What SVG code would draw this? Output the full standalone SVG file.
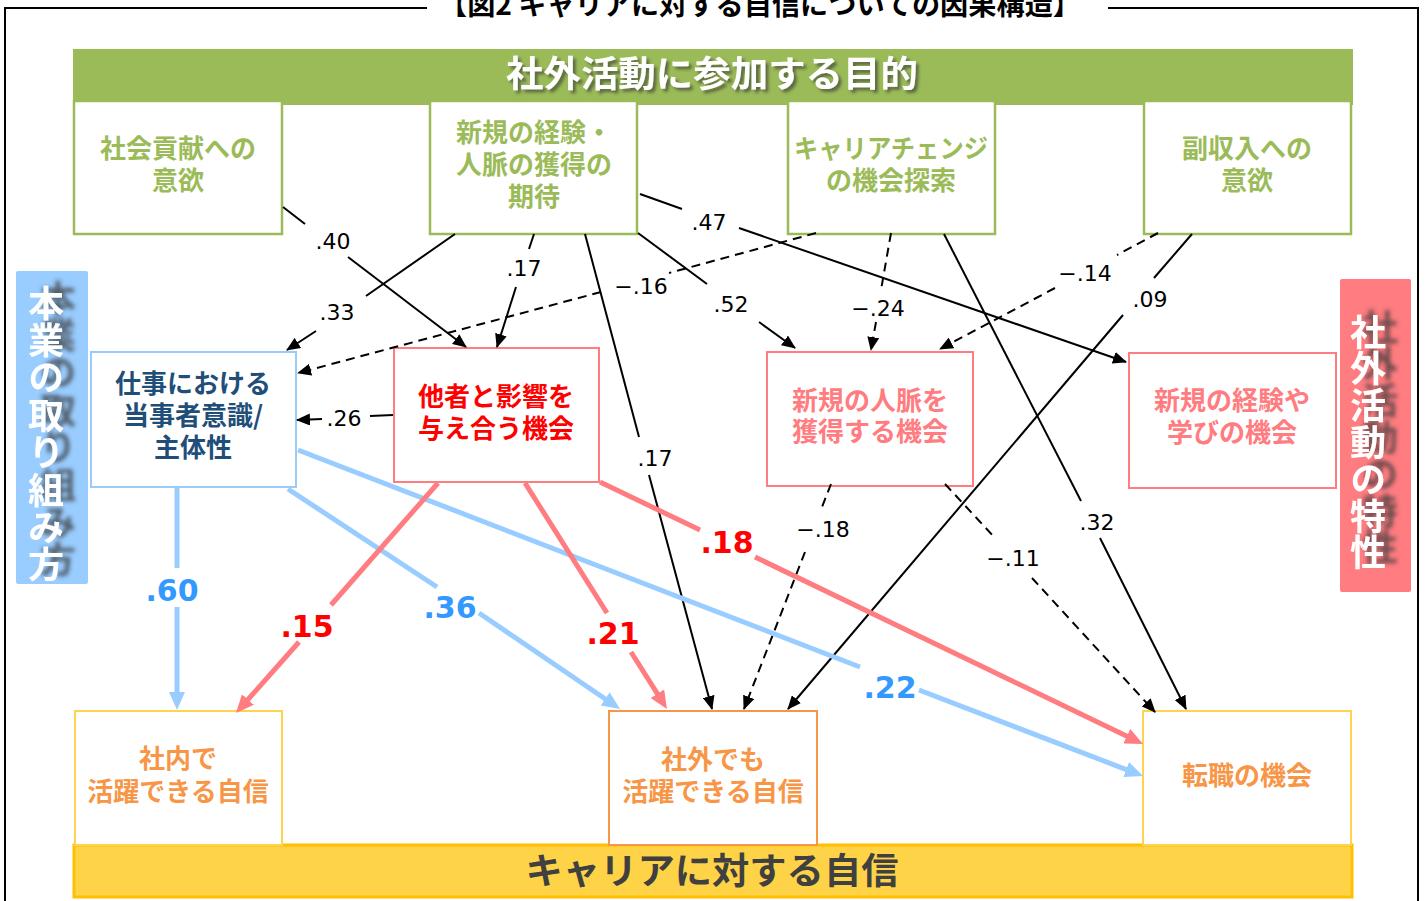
<svg xmlns="http://www.w3.org/2000/svg" width="1427" height="901" viewBox="0 0 1427 901">
<defs>
<style>
.jp{font-family:"Noto Sans CJK JP","Noto Sans CJK SC",sans-serif;font-weight:700}
.bt{font-size:26px;text-anchor:middle;dominant-baseline:central}
.g{fill:#9BBB59}.nb{fill:#1F4E79}.nr{fill:#FF0000}.np{fill:#FF7C80}.no{fill:#F79646}
.topbox{fill:#fff;stroke:#9BBB59;stroke-width:2.5}
.pbox{fill:#fff;stroke:#FF7C80;stroke-width:2}
.bbox{fill:#fff;stroke:#9CCBFA;stroke-width:2}
.ybox{fill:#fff;stroke:#FFD34F;stroke-width:2}
.obox{fill:#fff;stroke:#F79646;stroke-width:2}
.lbl{font-family:"DejaVu Sans",Verdana,sans-serif;font-size:22px;fill:#000;text-anchor:middle;dominant-baseline:central}
.clbl{font-family:"DejaVu Sans",Verdana,sans-serif;font-weight:bold;font-size:30px;text-anchor:middle;dominant-baseline:central}
.cb{fill:#3399FF}.cr{fill:#FF0000}
.k{stroke:#000;stroke-width:2;fill:none}
.kd{stroke-dasharray:9 6}
.bl{stroke:#99CCFF;stroke-width:5;fill:none}
.rd{stroke:#FF7C80;stroke-width:5;fill:none}
.vt{font-size:36px;fill:#fff;writing-mode:vertical-rl;text-anchor:start}
</style>
<marker id="ak" viewBox="0 0 14 12" refX="13" refY="6" markerWidth="14" markerHeight="12" orient="auto" markerUnits="userSpaceOnUse"><path d="M0,0 L14,6 L0,12 z" fill="#000"/></marker>
<marker id="ab" viewBox="0 0 18 16" refX="10" refY="8" markerWidth="18" markerHeight="16" orient="auto" markerUnits="userSpaceOnUse"><path d="M0,0 L18,8 L0,16 z" fill="#99CCFF"/></marker>
<marker id="ar" viewBox="0 0 18 16" refX="10" refY="8" markerWidth="18" markerHeight="16" orient="auto" markerUnits="userSpaceOnUse"><path d="M0,0 L18,8 L0,16 z" fill="#FF7C80"/></marker>
<filter id="sh" x="-30%" y="-30%" width="160%" height="160%"><feDropShadow dx="3" dy="3" stdDeviation="1.5" flood-color="#333" flood-opacity="0.6"/></filter>
<filter id="vsh" x="-50%" y="-20%" width="200%" height="140%"><feDropShadow dx="12" dy="-5" stdDeviation="2" flood-color="#3a3a3a" flood-opacity="0.75"/></filter>
</defs>

<g id="frame">
<path d="M427,8 H5 V905 M1108,8 H1418 V905" fill="none" stroke="#000" stroke-width="2"/>
<text class="jp" x="760" y="15" font-size="28" text-anchor="middle" textLength="642" lengthAdjust="spacingAndGlyphs">【図2 キャリアに対する自信についての因果構造】</text>
</g>

<g id="header">
<rect x="73" y="49" width="1280" height="56" fill="#9BBB59"/>
<text class="jp" x="712" y="71" font-size="36" fill="#fff" text-anchor="middle" dominant-baseline="central" textLength="412" lengthAdjust="spacingAndGlyphs" filter="url(#sh)">社外活動に参加する目的</text>
</g>

<g id="footer">
<rect x="74" y="845" width="1278" height="52" fill="#FFD347" stroke="#FFC000" stroke-width="3"/>
<text class="jp" x="712" y="868" font-size="36" fill="#404040" text-anchor="middle" dominant-baseline="central" textLength="373" lengthAdjust="spacingAndGlyphs">キャリアに対する自信</text>
</g>

<g id="side-left">
<rect x="16" y="271" width="72" height="313" rx="2" fill="#99CCFF"/>
<text class="jp vt" x="46" y="285" letter-spacing="1.4" filter="url(#vsh)">本業の取り組み方</text>
</g>

<g id="side-right">
<rect x="1340" y="279" width="71" height="313" rx="2" fill="#FF7C80"/>
<text class="jp vt" x="1368" y="314" letter-spacing="0.8" filter="url(#vsh)">社外活動の特性</text>
</g>

<g id="n-social">
<rect class="topbox" x="74" y="101" width="208" height="133"/>
<text class="jp bt g"><tspan x="178" y="146">社会貢献への</tspan><tspan x="178" y="178">意欲</tspan></text>
</g>
<g id="n-expect">
<rect class="topbox" x="430" y="101" width="207" height="133"/>
<text class="jp bt g"><tspan x="534" y="130">新規の経験・</tspan><tspan x="534" y="162">人脈の獲得の</tspan><tspan x="534" y="194">期待</tspan></text>
</g>
<g id="n-career">
<rect class="topbox" x="788" y="101" width="207" height="133"/>
<text class="jp bt g"><tspan x="891" y="146" textLength="194" lengthAdjust="spacingAndGlyphs">キャリアチェンジ</tspan><tspan x="891" y="178">の機会探索</tspan></text>
</g>
<g id="n-income">
<rect class="topbox" x="1144" y="101" width="207" height="133"/>
<text class="jp bt g"><tspan x="1247" y="146">副収入への</tspan><tspan x="1247" y="178">意欲</tspan></text>
</g>

<g id="n-ownership">
<rect class="bbox" x="91" y="352" width="205" height="135"/>
<text class="jp bt nb"><tspan x="193" y="381">仕事における</tspan><tspan x="193" y="413">当事者意識/</tspan><tspan x="193" y="445">主体性</tspan></text>
</g>
<g id="n-influence">
<rect class="pbox" x="394" y="348" width="205" height="134"/>
<text class="jp bt nr"><tspan x="496" y="394">他者と影響を</tspan><tspan x="496" y="426">与え合う機会</tspan></text>
</g>
<g id="n-network">
<rect class="pbox" x="767" y="352" width="206" height="134"/>
<text class="jp bt np"><tspan x="870" y="398">新規の人脈を</tspan><tspan x="870" y="429">獲得する機会</tspan></text>
</g>
<g id="n-learning">
<rect class="pbox" x="1129" y="353" width="207" height="135"/>
<text class="jp bt np"><tspan x="1232" y="398">新規の経験や</tspan><tspan x="1232" y="430">学びの機会</tspan></text>
</g>

<g id="n-inside">
<rect class="ybox" x="75" y="711" width="207" height="134"/>
<text class="jp bt no"><tspan x="178" y="756">社内で</tspan><tspan x="178" y="789">活躍できる自信</tspan></text>
</g>
<g id="n-outside">
<rect class="obox" x="609" y="711" width="208" height="134"/>
<text class="jp bt no"><tspan x="713" y="757">社外でも</tspan><tspan x="713" y="789">活躍できる自信</tspan></text>
</g>
<g id="n-jobchange">
<rect class="ybox" x="1143" y="711" width="208" height="134"/>
<text class="jp bt no" x="1247" y="773">転職の機会</text>
</g>

<g id="connectors">
<path class="k" d="M283,207 L305,224"/><path class="k" d="M348,257 L466,347" marker-end="url(#ak)"/>
<path class="k" d="M455,234 L366,296"/><path class="k" d="M316,331 L287,350" marker-end="url(#ak)"/>
<path class="k" d="M534,234 L529,249"/><path class="k" d="M516,287 L497,347" marker-end="url(#ak)"/>
<path class="k" d="M585,234 L639,437"/><path class="k" d="M649,475 L712,709" marker-end="url(#ak)"/>
<path class="k" d="M638,233 L707,284"/><path class="k" d="M759,322 L795,348" marker-end="url(#ak)"/>
<path class="k" d="M640,194 L682,209"/><path class="k" d="M739,228 L1126,362" marker-end="url(#ak)"/>
<path class="k" d="M944,234 L1081,501"/><path class="k" d="M1100,538 L1186,709" marker-end="url(#ak)"/>
<path class="k" d="M1192,234 L1154,278"/><path class="k" d="M1123,315 L788,709" marker-end="url(#ak)"/>
<path class="k" d="M393,415 L370,416"/><path class="k" d="M322,419 L297,420" marker-end="url(#ak)"/>
<path class="k kd" d="M816,233 L669,273"/><path class="k kd" d="M601,292 L298,373" marker-end="url(#ak)"/>
<path class="k kd" d="M891,233 L881,290"/><path class="k kd" d="M876,322 L871,350" marker-end="url(#ak)"/>
<path class="k kd" d="M1158,233 L1117,255"/><path class="k kd" d="M1055,288 L940,349" marker-end="url(#ak)"/>
<path class="k kd" d="M831,484 L822,507"/><path class="k kd" d="M805,552 L744,709" marker-end="url(#ak)"/>
<path class="k kd" d="M945,484 L996,539"/><path class="k kd" d="M1032,578 L1155,712" marker-end="url(#ak)"/>
<path class="bl" d="M177,487 L177,568"/><path class="bl" d="M177,607 L177,702" marker-end="url(#ab)"/>
<path class="bl" d="M288,489 L437,587"/><path class="bl" d="M479,613 L613.4,704.5" marker-end="url(#ab)"/>
<path class="bl" d="M298,450 L860,667"/><path class="bl" d="M919,690 L1135.5,773.1" marker-end="url(#ab)"/>
<path class="rd" d="M438,483 L331,605"/><path class="rd" d="M299,642 L241.3,707" marker-end="url(#ar)"/>
<path class="rd" d="M525,483 L607,613"/><path class="rd" d="M631,652 L662.7,702.2" marker-end="url(#ar)"/>
<path class="rd" d="M600,482 L700,530"/><path class="rd" d="M755,557 L1135.8,740.5" marker-end="url(#ar)"/>
<text class="lbl" x="333" y="241">.40</text>
<text class="lbl" x="337" y="312">.33</text>
<text class="lbl" x="524" y="268">.17</text>
<text class="lbl" x="655" y="458">.17</text>
<text class="lbl" x="731" y="304">.52</text>
<text class="lbl" x="709" y="222">.47</text>
<text class="lbl" x="641" y="286">−.16</text>
<text class="lbl" x="878" y="308">−.24</text>
<text class="lbl" x="1097" y="522">.32</text>
<text class="lbl" x="1085" y="273">−.14</text>
<text class="lbl" x="1150" y="299">.09</text>
<text class="lbl" x="344" y="418">.26</text>
<text class="lbl" x="823" y="529">−.18</text>
<text class="lbl" x="1013" y="558">−.11</text>
<text class="clbl cb" x="172" y="590">.60</text>
<text class="clbl cb" x="450" y="607">.36</text>
<text class="clbl cb" x="890" y="687">.22</text>
<text class="clbl cr" x="307" y="626">.15</text>
<text class="clbl cr" x="613" y="633">.21</text>
<text class="clbl cr" x="727" y="542">.18</text>
</g>
</svg>
